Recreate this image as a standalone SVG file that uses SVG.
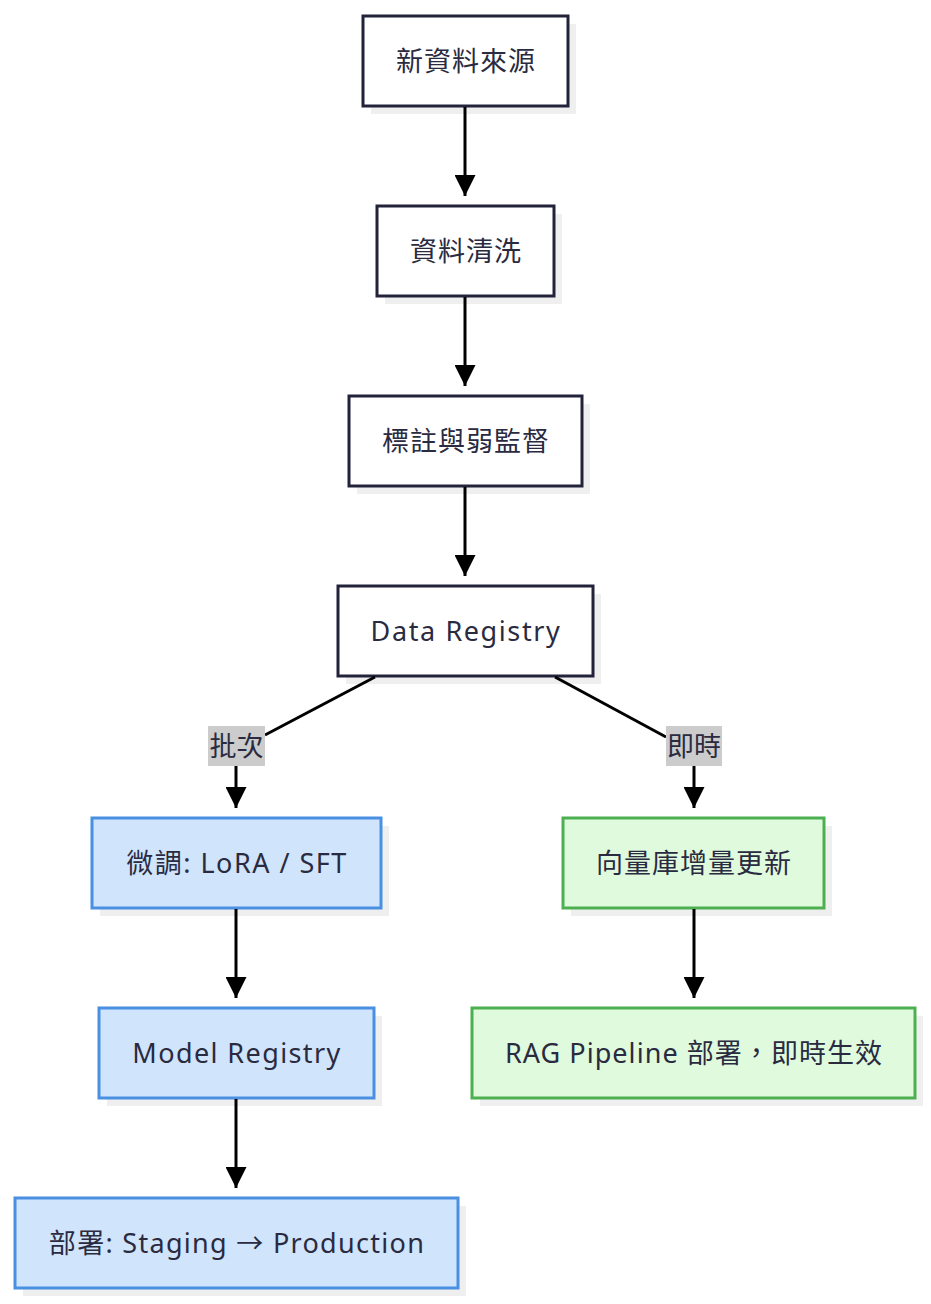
<svg xmlns="http://www.w3.org/2000/svg" width="931" height="1304" viewBox="0 0 931 1304">
<style>
text{font-family:"Noto Sans","Noto Sans CJK TC",sans-serif;font-size:27px;fill:#2a2a40;text-anchor:middle;dominant-baseline:central}
.sh{fill:#efefef}
.n{fill:#ffffff;stroke:#22223a;stroke-width:3}
.b{fill:#d0e4fb;stroke:#4a90e2;stroke-width:3}
.g{fill:#dffadd;stroke:#4caf50;stroke-width:3}
.e{fill:none;stroke:#000;stroke-width:3}
.lb{fill:#cccccc}
</style>
<defs>
<marker id="ah" viewBox="0 0 10 10" refX="10" refY="5" markerWidth="7" markerHeight="7" markerUnits="strokeWidth" orient="auto">
<path d="M0,0 L10,5 L0,10 z" fill="#000"/>
</marker>
</defs>
<g id="n1"><rect class="sh" x="371" y="24" width="205" height="90"/><rect class="n" x="363" y="16" width="205" height="90"/><text x="466" y="60" letter-spacing="1">新資料來源</text></g>
<g id="n2"><rect class="sh" x="385" y="214" width="177" height="90"/><rect class="n" x="377" y="206" width="177" height="90"/><text x="466" y="250" letter-spacing="1">資料清洗</text></g>
<g id="n3"><rect class="sh" x="357" y="404" width="233" height="90"/><rect class="n" x="349" y="396" width="233" height="90"/><text x="466" y="440" letter-spacing="1">標註與弱監督</text></g>
<g id="n4"><rect class="sh" x="346" y="594" width="255" height="90"/><rect class="n" x="338" y="586" width="255" height="90"/><text x="466" y="630" letter-spacing="1.6">Data Registry</text></g>
<g id="n5"><rect class="sh" x="100" y="826" width="289" height="90"/><rect class="b" x="92" y="818" width="289" height="90"/><text x="237" y="862" letter-spacing="1.5">微調: LoRA / SFT</text></g>
<g id="n6"><rect class="sh" x="107" y="1016" width="275" height="90"/><rect class="b" x="99" y="1008" width="275" height="90"/><text x="237" y="1052" letter-spacing="1.4">Model Registry</text></g>
<g id="n7"><rect class="sh" x="23" y="1206" width="443" height="90"/><rect class="b" x="15" y="1198" width="443" height="90"/><text x="237" y="1242" letter-spacing="1.3">部署: Staging → Production</text></g>
<g id="n8"><rect class="sh" x="571" y="826" width="261" height="90"/><rect class="g" x="563" y="818" width="261" height="90"/><text x="694" y="862" letter-spacing="1">向量庫增量更新</text></g>
<g id="n9"><rect class="sh" x="480" y="1016" width="443" height="90"/><rect class="g" x="472" y="1008" width="443" height="90"/><text x="694" y="1052" letter-spacing="1.05">RAG Pipeline 部署，即時生效</text></g>
<g id="connectors">
<line class="e" x1="465" y1="107" x2="465" y2="196" marker-end="url(#ah)"/>
<line class="e" x1="465" y1="297" x2="465" y2="386" marker-end="url(#ah)"/>
<line class="e" x1="465" y1="487" x2="465" y2="576" marker-end="url(#ah)"/>
<polyline class="e" points="375,677 265,735"/>
<line class="e" x1="236" y1="766" x2="236" y2="808" marker-end="url(#ah)"/>
<polyline class="e" points="555,677 666,737"/>
<line class="e" x1="694" y1="766" x2="694" y2="808" marker-end="url(#ah)"/>
<line class="e" x1="236" y1="909" x2="236" y2="998" marker-end="url(#ah)"/>
<line class="e" x1="236" y1="1099" x2="236" y2="1188" marker-end="url(#ah)"/>
<line class="e" x1="694" y1="909" x2="694" y2="998" marker-end="url(#ah)"/>
<g id="label-batch"><rect class="lb" x="208" y="726" width="57" height="40"/><text x="236.5" y="745">批次</text></g>
<g id="label-realtime"><rect class="lb" x="666" y="726" width="56" height="40"/><text x="694" y="745">即時</text></g>
</g>
</svg>
